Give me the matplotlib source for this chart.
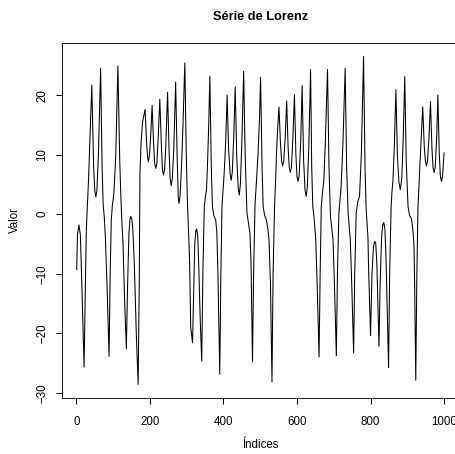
import matplotlib
matplotlib.use('Agg')
import matplotlib.pyplot as plt
import numpy as np

######################### DATA ################################################

# points (index, value), in order
idx = [1, 3, 7, 11, 15, 21, 24, 27, 30, 33, 37, 42, 47, 50, 53, 56, 60, 66,
       70, 73, 76, 79, 84, 89, 92, 95, 98, 102, 107, 113, 118, 121, 124, 127,
       131, 136, 139, 143, 146, 148, 151, 154, 158, 163, 168, 171, 173, 176,
       180, 187, 191, 194, 196, 199, 202, 206, 210, 213, 216, 219, 222, 227,
       231, 234, 237, 240, 243, 248, 252, 255, 258, 261, 265, 270, 274, 277,
       279, 282, 286, 290, 295, 299, 302, 305, 308, 311, 316, 319, 322, 325,
       327, 330, 333, 337, 341, 344, 348, 351, 354, 357, 360, 363, 367, 370,
       374, 379, 382, 385, 390, 393, 396, 399, 402, 406, 410, 414, 418, 421,
       424, 428, 432, 436, 440, 443, 446, 450, 455, 459, 464, 468, 472, 475,
       479, 482, 486, 490, 494, 498, 501, 505, 508, 512, 517, 521, 524, 528,
       532, 535, 539, 542, 545, 548, 551, 555, 558, 561, 564, 568, 572, 576,
       579, 582, 585, 589, 593, 597, 600, 603, 606, 610, 614, 618, 622, 625,
       628, 632, 637, 640, 643, 647, 651, 655, 660, 663, 666, 670, 673, 677,
       683, 687, 691, 694, 698, 702, 707, 710, 714, 717, 720, 725, 731, 735,
       739, 742, 745, 749, 754, 757, 761, 765, 770, 775, 781, 785, 788, 790,
       793, 795, 800, 804, 808, 811, 814, 817, 820, 823, 826, 830, 833, 836,
       839, 842, 845, 849, 852, 856, 858, 861, 865, 869, 873, 877, 881, 885,
       889, 893, 897, 902, 906, 911, 915, 918, 920, 923, 926, 929, 932, 934,
       938, 942, 946, 949, 952, 955, 959, 963, 967, 970, 973, 976, 980, 983,
       987, 990, 993, 996, 1000]

valor = [-9.3, -3.5, -1.8, -3.5, -12, -25.7, -14, -3, 1.5, 5.5, 12.5, 21.7,
         8, 4, 2.9, 4, 10, 24.5,
         8, 1.5, -0.5, -4, -13, -23.9, -10, -1, 1.5, 3.5, 9.5, 24.9, 9, 3,
         -1.5, -5,
         -14, -22.6, -12.8, -3.2, -0.8, -0.4, -0.8, -3, -9, -20, -28.6, -12,
         6.9, 12,
         15.5, 17.6, 12, 9.5, 8.8, 10, 13, 18.3, 12, 8.5, 7.7, 8.5, 12, 19.3,
         12, 7.5, 6.6, 7.5, 11, 20.5, 11, 6, 4.8, 6, 11, 22.2, 10, 3,
         1.8, 3, 8, 15, 25.4, 10, 2, -2.6, -8, -19, -21.6, -13, -5, -2.8,
         -2.5, -3.5, -9, -18, -24.7, -10, 1.3, 3, 4.1, 9, 15, 23.2, 8, 1.3,
         -0.3, -1.0, -3, -10, -26.9, -10, 1.3, 4, 6.9, 12, 20.0, 11, 7, 5.7,
         7, 13, 21.4, 10, 4.5, 3.2, 5, 12, 24.0, 10, 0.2, -1.5, -3.2, -8,
         -24.8, -10, 1.8, 5.7, 10, 16, 23.0, 8, 1.3, -0.2, -1.0, -2.5, -4.3, -12,
         -28.2, -10, 1.3, 6, 11.3, 15, 18.0, 12, 9, 8.1, 9, 13, 19.0, 11,
         7.8, 7.0, 8, 13, 20.1, 10, 6.3, 5.5, 6.5, 12, 21.6, 9, 4, 3.0,
         4.5, 11, 24.3, 8, 1.3, -1, -4.3, -12, -24.0, -10, 1.3, 4, 5.7, 12,
         24.3, 8, -0.4, -2, -4.3, -12, -23.8, -10, 0.2, 2.5, 4.6, 12, 24.5, 8,
         0.2, -2, -4.3, -12, -23.3, -10, 0.2, 2, 3.0, 10, 26.5, 8, 1, -1.0,
         -4, -9.9, -20.4, -10, -5.5, -4.6, -4.8, -8, -15, -22.2, -12, -4, -1.8, -1.4,
         -2.5, -7, -15, -25.8, -10, 1.3, 3.5, 5.7, 12, 20.9, 10, 5.5, 4.1, 6,
         13, 23.1, 9, 1.3, -0.2, -0.7, -2.5, -5, -12, -27.9, -10, 1.3, 5, 8.0,
         13, 18.0, 11.5, 9, 8.1, 9, 13, 18.9, 11, 7.8, 7.0, 8, 13, 20.0,
         10, 6.3, 5.5, 6.5, 10.3]

xticks = [0, 200, 400, 600, 800, 1000]
yticks = [-30, -20, -10, 0, 10, 20]

######################### FIG PARAMS ##########################################

plt.rcParams['font.family'] = ['Liberation Sans', 'DejaVu Sans']
fs = 8.3
lw = 0.75

######################### GENERATE FIG ########################################

fig = plt.figure(figsize=(4.55, 4.54), dpi=100)
# R-like plot region; right side runs off the canvas as in the reference
ax = fig.add_axes([0.1363, 0.1244, 0.872, 0.7802])

ax.plot(idx, valor, c='k', linewidth=lw)

# R default: 4% padding around data range
xr = max(idx) - min(idx)
ax.set_xlim(min(idx) - 0.04 * xr, max(idx) + 0.04 * xr)
yr = max(valor) - min(valor)
ax.set_ylim(min(valor) - 0.04 * yr, max(valor) + 0.04 * yr)

ax.set_xticks(xticks)
ax.set_yticks(yticks)
ax.set_yticklabels([str(t).replace('-', '\u2212') for t in yticks],
                   rotation=90, va='center')
ax.tick_params(axis='both', direction='out', length=4, width=0.75,
               labelsize=fs, color='k')
ax.tick_params(axis='x', pad=9)
ax.tick_params(axis='y', pad=6)
for s in ax.spines.values():
    s.set_linewidth(0.75)
    s.set_color('#222222')

ax.set_xlabel('Índices', fontsize=fs, labelpad=8)
ax.set_ylabel('Valor', fontsize=fs, labelpad=11)
ax.set_title('Série de Lorenz', fontsize=9.2, fontweight='bold', pad=17)

#### Save #####################################################################
plt.savefig('out.png', dpi=100)
plt.close()
